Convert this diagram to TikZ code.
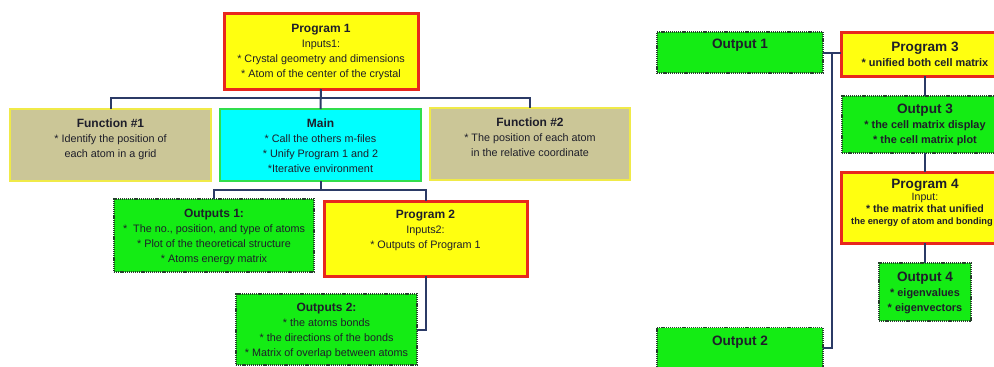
\documentclass[tikz,border=0pt]{standalone}
\usepackage{fontspec}
\setmainfont{Liberation Sans}
\definecolor{progY}{HTML}{FFFF10}
\definecolor{progR}{HTML}{E8281E}
\definecolor{khaki}{HTML}{CBC697}
\definecolor{funcY}{HTML}{F0EA48}
\definecolor{cyanF}{HTML}{00FFFF}
\definecolor{mainG}{HTML}{30DE4C}
\definecolor{outG}{HTML}{14EC14}
\definecolor{outD}{HTML}{24402A}
\definecolor{connC}{HTML}{2B3A66}
\definecolor{txtC}{HTML}{1E1E2A}
\newcommand{\lttl}[1]{{\fontsize{12}{15}\bfseries #1}}
\newcommand{\rttl}[1]{{\fontsize{13.6}{15}\bfseries #1}}
\begin{document}
\begin{tikzpicture}[x=1pt,y=-1pt,
  box/.style={rectangle, inner sep=0pt, outer sep=0pt},
  progbox/.style={box, fill=progY, draw=progR, line width=3pt},
  funcbox/.style={box, fill=khaki, draw=funcY, line width=2.6pt},
  mainbox/.style={box, fill=cyanF, draw=mainG, line width=2.6pt},
  outbox/.style={box, fill=outG, draw=outD, line width=1.6pt, dash pattern=on 1.2pt off 0.9pt},
  ltxt/.style={align=center, inner sep=0pt, text=txtC, font=\fontsize{10.8}{15}\selectfont},
  rtxt/.style={align=center, inner sep=0pt, text=txtC, font=\fontsize{10.9}{15}\selectfont\bfseries},
  conn/.style={draw=connC, line width=2pt}]
\useasboundingbox (0,0) rectangle (994,367);
\clip (0,0) rectangle (994,367);
\fill[white] (0,0) rectangle (994,367);

% ---------- left boxes ----------
\node[progbox, minimum width=194pt, minimum height=76pt] (p1) at (321,51) {};
\node[funcbox, minimum width=201pt, minimum height=72pt] (f1) at (110.5,145) {};
\node[mainbox, minimum width=201pt, minimum height=72pt] (main) at (320.5,145) {};
\node[funcbox, minimum width=200pt, minimum height=72pt] (f2) at (530,144) {};
\node[outbox, minimum width=200pt, minimum height=73pt] (o1s) at (214,235.5) {};
\node[progbox, minimum width=203pt, minimum height=75pt] (p2) at (425.5,238.5) {};
\node[outbox, minimum width=181pt, minimum height=71pt] (o2s) at (326.5,329.5) {};

% ---------- right boxes ----------
\node[outbox, minimum width=166pt, minimum height=41pt] (out1) at (740,52.5) {};
\node[progbox, minimum width=168pt, minimum height=44pt] (p3) at (925,54) {};
\node[outbox, minimum width=166pt, minimum height=57pt] (o3) at (925,124.5) {};
\node[progbox, minimum width=168pt, minimum height=71pt] (p4) at (925,207.5) {};
\node[outbox, minimum width=92pt, minimum height=58pt] (o4) at (925,292) {};
\node[outbox, minimum width=166pt, minimum height=41pt] (out2) at (740,348) {};

% ---------- connectors ----------
\coordinate (j1) at (321,98);
\coordinate (j2) at (320.5,190);
\coordinate (j3) at (832,52.5);
\draw[conn] (p1.south) -- (main.north);
\draw[conn] (f1.north) |- (j1) -| (f2.north);
\draw[conn] (main.south) -- (j2);
\draw[conn] (o1s.north) |- (j2) -| (p2.north);
\draw[conn] (p2.south) |- (o2s.east);
\draw[conn] (out1.east) -- (p3.west |- out1.east);
\draw[conn] (j3) |- (out2.east);
\draw[conn] (p3.south) -- (o3.north);
\draw[conn] (o3.south) -- (p4.north);
\draw[conn] (p4.south) -- (o4.north);

% ---------- texts ----------
\node[ltxt] (p1t) at (321,52) {\lttl{Program 1}\\Inputs1:\\* Crystal geometry and dimensions\\* Atom of the center of the crystal};
\node[ltxt] (f1t) at (110.5,139) {\lttl{Function \#1}\\* Identify the position of\\each atom in a grid};
\node[ltxt] (maint) at (320.5,145.5) {\lttl{Main}\\* Call the others m-files\\* Unify Program 1 and 2\\*Iterative environment};
\node[ltxt] (f2t) at (530,137.5) {\lttl{Function \#2}\\* The position of each atom\\in the relative coordinate};
\node[ltxt] (o1st) at (214,236.5) {\lttl{Outputs 1:}\\*\ \ The no., position, and type of atoms\\* Plot of the theoretical structure\\* Atoms energy matrix};
\node[ltxt] (p2t) at (425.5,230.5) {\lttl{Program 2}\\Inputs2:\\* Outputs of Program 1};
\node[ltxt] (o2st) at (326.5,330.5) {\lttl{Outputs 2:}\\* the atoms bonds\\* the directions of the bonds\\* Matrix of overlap between atoms};

\node[rtxt] (out1t) at (740,45.5) {\rttl{Output 1}};
\node[rtxt] (p3t) at (925,54.5) {\rttl{Program 3}\\* unified both cell matrix};
\node[rtxt] (o3t) at (925,124.5) {\rttl{Output 3}\\* the cell matrix display\\* the cell matrix plot};
\node[rtxt, font=\fontsize{10.6}{12}\selectfont\bfseries] (p4t) at (925,202.5) {\rttl{Program 4}\\{\mdseries Input:}\\* the matrix that unified\\{\fontsize{9.3}{12}\selectfont the energy of atom and bonding}\hspace*{6pt}};
\node[rtxt] (o4t) at (925,292.5) {\rttl{Output 4}\\* eigenvalues\\* eigenvectors};
\node[rtxt] (out2t) at (740,342.5) {\rttl{Output 2}};
\end{tikzpicture}
\end{document}
